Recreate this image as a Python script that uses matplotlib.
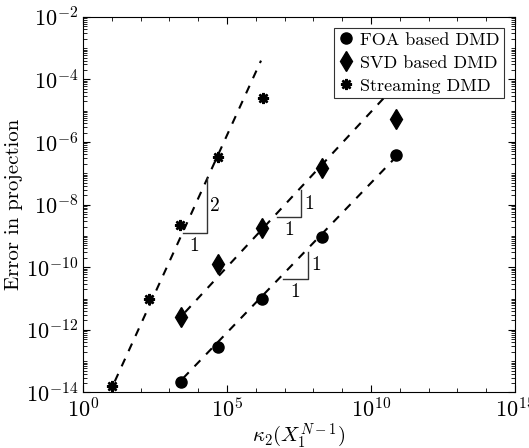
import numpy as np
import matplotlib
matplotlib.use("Agg")
import matplotlib.pyplot as plt
from matplotlib.ticker import NullFormatter

plt.rcParams['font.family'] = 'serif'
plt.rcParams['font.serif'] = ['cmr10']
plt.rcParams['mathtext.fontset'] = 'cm'
plt.rcParams['axes.unicode_minus'] = False
plt.rcParams['axes.formatter.use_mathtext'] = True

# condition number (x) and projection error (y)
foa_x = [10**3.39, 10**4.68, 10**6.2, 10**8.3, 10**10.87]
foa_y = [2.1e-14, 2.75e-13, 1.0e-11, 9.0e-10, 3.8e-7]
svd_x = [10**3.39, 10**4.68, 10**6.2, 10**8.3, 10**10.87]
svd_y = [2.5e-12, 1.26e-10, 1.8e-9, 1.5e-7, 5.5e-6]
str_x = [10**1.0, 10**2.29, 10**3.37, 10**4.68, 10**6.25]
str_y = [1.6e-14, 1.0e-11, 2.2e-9, 3.3e-7, 2.6e-5]

# fitted slope lines (end points)
fit_foa_x = [10**3.47, 10**10.76]
fit_foa_y = [10**-13.55, 10**-6.58]
fit_svd_x = [10**3.54, 10**10.45]
fit_svd_y = [10**-11.44, 10**-4.59]
fit_str_x = [10**1.1, 10**6.18]
fit_str_y = [10**-13.65, 10**-3.4]

# slope triangles: (x0, x1, y0, y1, vertical label, horizontal label)
triangles = [
    (10**3.46, 10**4.29, 10**-8.9, 10**-7.16, '2', '1'),
    (10**6.74, 10**7.57, 10**-8.41, 10**-7.54, '1', '1'),
    (10**6.95, 10**7.80, 10**-10.37, 10**-9.51, '1', '1'),
]

fig = plt.figure(figsize=(5.29, 4.48), dpi=100)
ax = fig.add_axes([0.157, 0.124, 0.8165, 0.8385])

ax.loglog(fit_foa_x, fit_foa_y, 'k--', lw=1.5, dashes=(4, 4))
ax.loglog(fit_svd_x, fit_svd_y, 'k--', lw=1.5, dashes=(4, 4))
ax.loglog(fit_str_x, fit_str_y, 'k--', lw=1.5, dashes=(4, 4))

ax.loglog(foa_x, foa_y, 'ko', ms=8, ls='none', label='FOA based DMD')
ax.loglog(svd_x, svd_y, 'kd', ms=10, ls='none', label='SVD based DMD')
ax.loglog(str_x, str_y, 'k', marker=(8, 2, 0), ms=8, mew=1.8, ls='none',
          label='Streaming DMD')

for x0, x1, y0, y1, lv, lh in triangles:
    ax.plot([x0, x1, x1], [y0, y0, y1], color='0.2', lw=1)
    ax.text(x1 * 1.3, np.sqrt(y0 * y1), lv, fontsize=14, va='center', ha='left')
    ax.text(np.sqrt(x0 * x1), y0 / 1.35, lh, fontsize=14, va='top', ha='center')

ax.set_xlim(1, 1e15)
ax.set_ylim(1e-14, 1e-2)
ax.set_xticks([1, 1e5, 1e10, 1e15])
ax.set_xticks([10.0**k for k in range(16) if k % 5], minor=True)
ax.set_yticks([10.0**k for k in range(-14, -1, 2)])
ymaj = set(ax.get_yticks())
ymin = [m * 10.0**k for k in range(-14, -2) for m in range(1, 10)]
ax.set_yticks([v for v in ymin if v not in ymaj], minor=True)
ax.xaxis.set_minor_formatter(NullFormatter())
ax.yaxis.set_minor_formatter(NullFormatter())
ax.tick_params(which='both', direction='in', top=True, right=True, labelsize=16)
ax.tick_params(which='major', length=5)
ax.tick_params(which='minor', length=3)

ax.set_xlabel(r'$\kappa_2(X_1^{N-1})$', fontsize=15, labelpad=0)
ax.set_ylabel('Error in projection', fontsize=15)
ax.yaxis.set_label_coords(-0.14, 0.5)

leg = ax.legend(loc='upper right', fontsize=13, frameon=True, fancybox=False,
                edgecolor='k', handlelength=0.8, handletextpad=0.4,
                borderpad=0.25, labelspacing=0.4, borderaxespad=0.6)
leg.get_frame().set_linewidth(0.8)

fig.savefig('out.png', dpi=100)
